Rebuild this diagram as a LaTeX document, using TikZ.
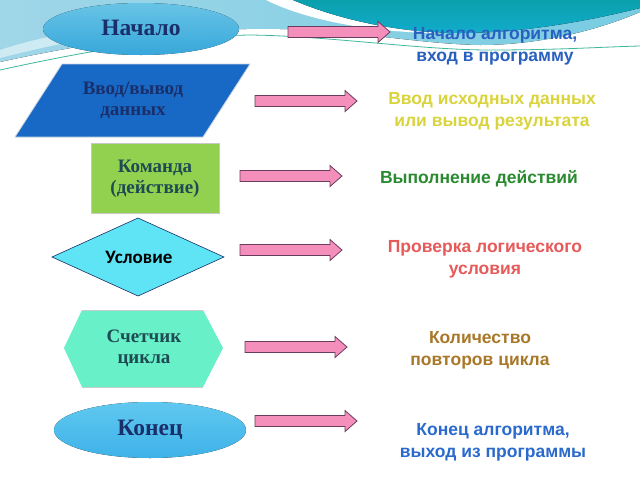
\documentclass[tikz,border=0pt]{standalone}
\usepackage{fontspec}
\setmainfont{Liberation Serif}
\newfontfamily\sansf{Liberation Sans}
\newfontfamily\calib{Carlito}
\usetikzlibrary{shapes.geometric}
\definecolor{navy}{HTML}{1A2F6A}
\definecolor{dteal}{HTML}{1E4A52}
\definecolor{arrowfill}{HTML}{F48FBC}
\definecolor{arrowline}{HTML}{6A3C5E}
\definecolor{tBlue}{HTML}{2860C0}
\definecolor{tYellow}{HTML}{DAD43C}
\definecolor{tGreen}{HTML}{2A8A30}
\definecolor{tRed}{HTML}{E65A5A}
\definecolor{tBrown}{HTML}{A87828}
\definecolor{tBlue2}{HTML}{2A6ACC}
\tikzset{
  lbl/.style={font=\sansf\bfseries\fontsize{17.5}{22}\selectfont, align=center, inner sep=0pt},
  shapetxt/.style={font=\bfseries\fontsize{19}{21}\selectfont, align=center, inner sep=0pt},
  bigtxt/.style={font=\bfseries\fontsize{23.5}{25}\selectfont, inner sep=0pt, text=navy},
  barrow/.style={fill=arrowfill, draw=arrowline, line width=0.8pt, line join=miter},
}
\newcommand\blockarrow[3]{%
  \draw[barrow] (#1,#3-5.5) -- (#2-12,#3-5.5) -- (#2-12,#3-10.5) -- (#2,#3)
     -- (#2-12,#3+10.5) -- (#2-12,#3+5.5) -- (#1,#3+5.5) -- cycle;}
\begin{document}
\begin{tikzpicture}[x=1pt,y=-1pt]
\useasboundingbox (0,0) rectangle (640,480);
% ---------- background ----------
\fill[white] (0,0) rectangle (640,480);
\fill[left color={rgb,255:red,160;green,214;blue,232}, right color={rgb,255:red,120;green,204;blue,226}]
  (0,0) -- (640,0) -- (640,12) .. controls (610,25) and (550,45) .. (480,45)
  .. controls (420,44) and (360,31) .. (280,29)
  .. controls (200,27) and (100,40) .. (0,62) -- cycle;
\fill[white, opacity=0.5] (0,50) .. controls (60,30) and (140,20) .. (230,18)
  .. controls (150,26) and (70,40) .. (0,58) -- cycle;
\fill[white]
  (266,0) .. controls (310,22) and (380,33) .. (440,33) -- (440,0) -- cycle;
\fill[top color={rgb,255:red,10;green,160;blue,172}, bottom color={rgb,255:red,18;green,172;blue,204}]
  (293,0) .. controls (340,20) and (400,33) .. (460,33)
  .. controls (530,33) and (600,18) .. (640,8) -- (640,0) -- cycle;
\draw[color={rgb,255:red,60;green,184;blue,154}, line width=0.8pt]
  (0,70) .. controls (100,48) and (180,36) .. (250,35)
  .. controls (330,36) and (420,50) .. (490,50)
  .. controls (560,50) and (600,47) .. (640,46);
% ---------- shapes ----------
% Начало
\fill[top color={rgb,255:red,110;green,206;blue,242}, bottom color={rgb,255:red,58;green,176;blue,230}, opacity=0.95]
  (141,29) ellipse [x radius=98, y radius=26];
\node[bigtxt] (start) at (141,28) {Начало};
% Ввод/вывод
\draw[draw={rgb,255:red,200;green,210;blue,225}, line width=0.8pt, fill={rgb,255:red,24;green,104;blue,198}]
  (62,64) -- (250,64) -- (203,137) -- (15,137) -- cycle;
\node[shapetxt, text=navy] (io) at (133,100) {Ввод/вывод\\данных};
% Команда
\draw[draw={rgb,255:red,200;green,200;blue,200}, line width=0.8pt, fill={rgb,255:red,146;green,208;blue,80}]
  (91,143) rectangle (219,213);
\node[shapetxt, text=dteal] (cmd) at (155,179) {Команда\\(действие)};
% Условие
\draw[draw=navy, line width=0.6pt, fill={rgb,255:red,94;green,228;blue,244}]
  (52,257) -- (138,218) -- (224,257) -- (138,296) -- cycle;
\node[font=\calib\bfseries\fontsize{19}{21}\selectfont, inner sep=0pt] (cond) at (139,257) {Условие};
% Счетчик цикла
\fill[fill={rgb,255:red,104;green,240;blue,200}]
  (64,348) -- (82,310) -- (203,310) -- (223,348) -- (203,387) -- (82,387) -- cycle;
\draw[draw={rgb,255:red,200;green,205;blue,205}, line width=0.8pt] (82,310) -- (203,310) (82,387) -- (203,387);
\node[shapetxt, text=dteal] (cnt) at (144,348) {Счетчик\\цикла};
% Конец
\fill[top color={rgb,255:red,96;green,200;blue,240}, bottom color={rgb,255:red,62;green,178;blue,232}]
  (150,430) ellipse [x radius=96, y radius=28];
\node[bigtxt] (end) at (150,430) {Конец};
% ---------- arrows ----------
\blockarrow{288}{390}{32}
\blockarrow{255}{357}{101}
\blockarrow{240}{342}{176}
\blockarrow{240}{342}{250}
\blockarrow{245}{347}{347}
\blockarrow{255}{357}{421}
% ---------- labels ----------
\node[lbl, text=tBlue] (d1) at (495,46) {Начало алгоритма,\\вход в программу};
\node[lbl, text=tYellow] (d2) at (492,111) {Ввод исходных данных\\или вывод результата};
\node[lbl, text=tGreen] (d3) at (479,179) {Выполнение действий};
\node[lbl, text=tRed] (d4) at (485,259) {Проверка логического\\условия};
\node[lbl, text=tBrown] (d5) at (480,350) {Количество\\повторов цикла};
\node[lbl, text=tBlue2] (d6) at (493,442) {Конец алгоритма,\\выход из программы};
\end{tikzpicture}
\end{document}
